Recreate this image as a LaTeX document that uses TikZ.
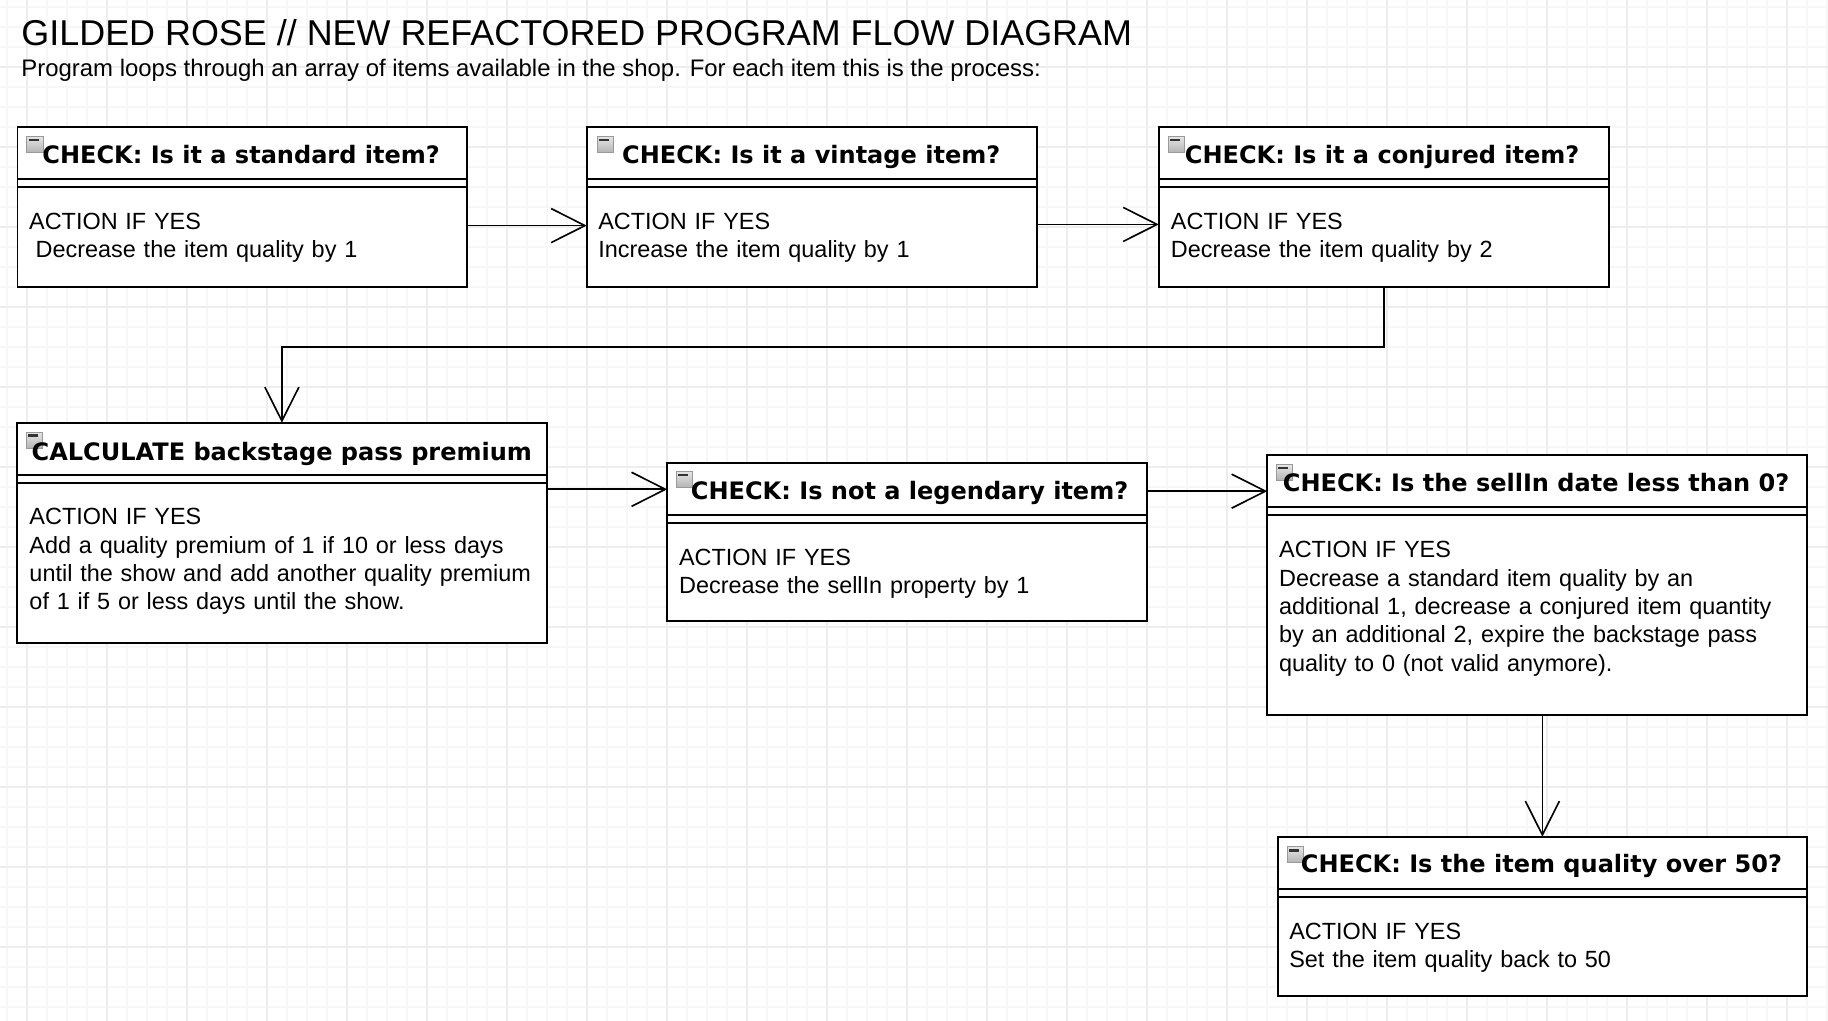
\documentclass[tikz,border=0pt]{standalone}
\usepackage{fontspec}
\setmainfont{Liberation Sans}
\newfontfamily\headfont{DejaVu Sans}
\usetikzlibrary{calc,arrows.meta}

\begin{document}
\begin{tikzpicture}[x = 0.5pt, y = -0.5pt,
  gridminor/.style = {line width = 0.8pt, color = black!3},
  gridmajor/.style = {line width = 0.8pt, color = black!7},
  box/.style = {draw, line width = 0.8pt, fill = white, anchor = north west, inner sep = 0pt, outer sep = 0pt},
  rule/.style = {line width = 0.8pt},
  head/.style = {anchor = base west, inner sep = 0pt, font = \headfont\bfseries\fontsize{10.3pt}{12pt}\selectfont},
  body/.style = {anchor = base west, inner sep = 0pt, align = left, text width = 240pt, font = \fontsize{10.05pt}{12.15pt}\selectfont},
  icon/.style = {draw = gray!80, line width = 0.4pt, top color = gray!20, bottom color = gray!60, minimum size = 7pt, inner sep = 0pt},
  minus/.style = {line width = 1.1pt, color = black!80},
  flow/.style = {line width = 0.7pt, -{Straight Barb[length = 14.5pt, width = 14.6pt]}}]
\useasboundingbox (0, 0) rectangle (1568, 875);
\fill [white] (0, 0) rectangle (1568, 875);
\draw [gridminor, xshift = 2.86pt, yshift = -2.86pt, step = 8.5775pt] (-10, 890) grid (1580, -10);
\draw [gridmajor, xshift = 11.435pt, yshift = -28.595pt, step = 34.31pt] (-30, 900) grid (1600, -60);

\node [anchor = base west, inner sep = 0pt, font = \fontsize{15.4pt}{18pt}\selectfont] (title) at (18, 39) {GILDED ROSE // NEW REFACTORED PROGRAM FLOW DIAGRAM};
\node [anchor = base west, inner sep = 0pt, font = \fontsize{10.26pt}{12pt}\selectfont] (intro) at (18, 65.2) {Program loops through an array of items available in the shop. For each item this is the process:};

% boxes
\node [box, minimum width = 192.75pt, minimum height = 68.5pt] (b1) at (15, 109) {};
\node [box, minimum width = 193pt, minimum height = 68.5pt] (b2) at (503.3, 109) {};
\node [box, minimum width = 193pt, minimum height = 68.5pt] (b3) at (994, 109) {};
\node [box, minimum width = 227.2pt, minimum height = 94.35pt] (b4) at (14.6, 362.6) {};
\node [box, minimum width = 205.85pt, minimum height = 67.5pt] (b5) at (572.3, 397.4) {};
\node [box, minimum width = 231.5pt, minimum height = 111.5pt] (b6) at (1087, 390.3) {};
\node [box, minimum width = 227pt, minimum height = 68.3pt] (b7) at (1096, 717.7) {};

\draw [rule] ($(b1.north west)+(0, 44.6)$) -- ($(b1.north east)+(0, 44.6)$);
\draw [rule] ($(b1.north west)+(0, 51.2)$) -- ($(b1.north east)+(0, 51.2)$);
\draw [rule] ($(b2.north west)+(0, 44.6)$) -- ($(b2.north east)+(0, 44.6)$);
\draw [rule] ($(b2.north west)+(0, 51.2)$) -- ($(b2.north east)+(0, 51.2)$);
\draw [rule] ($(b3.north west)+(0, 44.6)$) -- ($(b3.north east)+(0, 44.6)$);
\draw [rule] ($(b3.north west)+(0, 51.2)$) -- ($(b3.north east)+(0, 51.2)$);
\draw [rule] ($(b4.north west)+(0, 44.9)$) -- ($(b4.north east)+(0, 44.9)$);
\draw [rule] ($(b4.north west)+(0, 51.4)$) -- ($(b4.north east)+(0, 51.4)$);
\draw [rule] ($(b5.north west)+(0, 44.4)$) -- ($(b5.north east)+(0, 44.4)$);
\draw [rule] ($(b5.north west)+(0, 50.9)$) -- ($(b5.north east)+(0, 50.9)$);
\draw [rule] ($(b6.north west)+(0, 44.3)$) -- ($(b6.north east)+(0, 44.3)$);
\draw [rule] ($(b6.north west)+(0, 51.5)$) -- ($(b6.north east)+(0, 51.5)$);
\draw [rule] ($(b7.north west)+(0, 44.9)$) -- ($(b7.north east)+(0, 44.9)$);
\draw [rule] ($(b7.north west)+(0, 51.5)$) -- ($(b7.north east)+(0, 51.5)$);

\node [icon] (i1) at ($(b1.north west)+(15, 15)$) {};
\node [icon] (i2) at ($(b2.north west)+(16, 15)$) {};
\node [icon] (i3) at ($(b3.north west)+(15, 15)$) {};
\node [icon] (i4) at ($(b4.north west)+(15, 15)$) {};
\node [icon] (i5) at ($(b5.north west)+(15, 14)$) {};
\node [icon] (i6) at ($(b6.north west)+(15, 15)$) {};
\node [icon] (i7) at ($(b7.north west)+(15, 15.5)$) {};
\draw [minus] ($(i1.north west)+(2, 3.5)$) -- ++(8.5, 0);
\draw [minus] ($(i2.north west)+(2, 3.5)$) -- ++(8.5, 0);
\draw [minus] ($(i3.north west)+(2, 3.5)$) -- ++(8.5, 0);
\draw [minus] ($(i4.north west)+(2, 3.5)$) -- ++(8.5, 0);
\draw [minus] ($(i5.north west)+(2, 3.5)$) -- ++(8.5, 0);
\draw [minus] ($(i6.north west)+(2, 3.5)$) -- ++(8.5, 0);
\draw [minus] ($(i7.north west)+(2, 3.5)$) -- ++(8.5, 0);

\node [head] (h1) at ($(b1.north west)+(21, 31)$) {CHECK: Is it a standard item?};
\node [head] (h2) at ($(b2.north west)+(30, 31)$) {CHECK: Is it a vintage item?};
\node [head] (h3) at ($(b3.north west)+(22, 31)$) {CHECK: Is it a conjured item?};
\node [head] (h4) at ($(b4.north west)+(12.2, 32)$) {CALCULATE backstage pass premium};
\node [head] (h5) at ($(b5.north west)+(20, 31)$) {CHECK: Is not a legendary item?};
\node [head] (h6) at ($(b6.north west)+(13, 31)$) {CHECK: Is the sellIn date less than 0?};
\node [head] (h7) at ($(b7.north west)+(19.5, 31)$) {CHECK: Is the item quality over 50?};

\node [body] (t1) at ($(b1.north west)+(9.6, 87.7)$) {ACTION IF YES\\\hspace*{2.8pt}Decrease the item quality by 1};
\node [body] (t2) at ($(b2.north west)+(9.5, 87.7)$) {ACTION IF YES\\Increase the item quality by 1};
\node [body] (t3) at ($(b3.north west)+(10, 87.7)$) {ACTION IF YES\\Decrease the item quality by 2};
\node [body] (t4) at ($(b4.north west)+(10.3, 87.7)$) {ACTION IF YES\\Add a quality premium of 1 if 10 or less days\\until the show and add another quality premium\\of 1 if 5 or less days until the show.};
\node [body] (t5) at ($(b5.north west)+(9.8, 87.7)$) {ACTION IF YES\\Decrease the sellIn property by 1};
\node [body] (t6) at ($(b6.north west)+(9.8, 88.1)$) {ACTION IF YES\\Decrease a standard item quality by an\\additional 1, decrease a conjured item quantity\\by an additional 2, expire the backstage pass\\quality to 0 (not valid anymore).};
\node [body] (t7) at ($(b7.north west)+(9.5, 88)$) {ACTION IF YES\\Set the item quality back to 50};

% connectors
\coordinate (in5) at ($(b5.north west)+(0, 22.3)$);
\coordinate (in6) at ($(b6.north west)+(0, 31)$);
\draw [flow] ($(b1.east)+(0, 16)$) -- ($(b2.west)+(0, 16)$);
\draw [flow] ($(b2.east)+(0, 15)$) -- ($(b3.west)+(0, 15)$);
\draw [flow] (b3.south) -- ++(0, 51.4) -| (b4.north);
\draw [flow] (b4.east |- in5) -- (in5);
\draw [flow] (b5.east |- in6) -- (in6);
\draw [flow] (b7.north |- b6.south) -- (b7.north);
\end{tikzpicture}
\end{document}
